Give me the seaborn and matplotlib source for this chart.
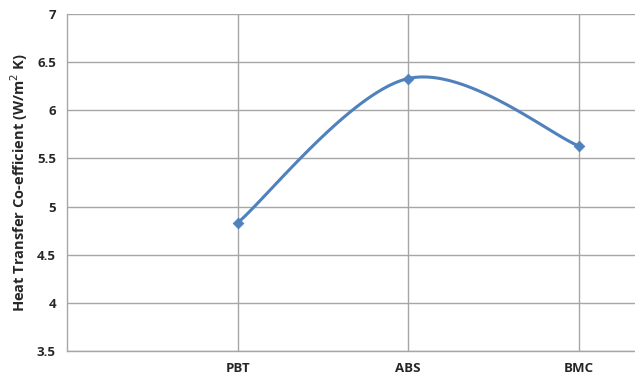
import numpy as np
import pandas as pd
import matplotlib
matplotlib.use("Agg")
import matplotlib.pyplot as plt
import seaborn as sns

# Data
materials = ["PBT", "ABS", "BMC"]
htc = [4.83, 6.33, 5.63]
positions = [1, 2, 3]
y_ticks = [3.5, 4, 4.5, 5, 5.5, 6, 6.5, 7]

sns.set_theme(style="white")
plt.rcParams["font.family"] = ["Open Sans", "DejaVu Sans"]

LINE = "#4F81BD"
GRID = "#A6A6A6"


def smooth_curve(xs, ys, n=60):
    """Cubic Bezier smoothing through the points (spreadsheet-style)."""
    P = np.column_stack([xs, ys]).astype(float)
    ext = np.vstack([P[0], P, P[-1]])
    out = []
    t = np.linspace(0, 1, n)[:, None]
    for i in range(len(P) - 1):
        p0, p1 = ext[i + 1], ext[i + 2]
        c1 = p0 + (ext[i + 2] - ext[i]) / 6
        c2 = p1 - (ext[i + 3] - ext[i + 1]) / 6
        seg = ((1 - t) ** 3) * p0 + 3 * ((1 - t) ** 2) * t * c1 \
            + 3 * (1 - t) * t ** 2 * c2 + t ** 3 * p1
        out.append(seg if i == 0 else seg[1:])
    return np.vstack(out)


fig = plt.figure(figsize=(6.35, 3.79), dpi=100)
ax = fig.add_axes([0.1055, 0.074, 0.8945, 0.889])

curve = smooth_curve(positions, htc)
curve_df = pd.DataFrame({"x": curve[:, 0], "y": curve[:, 1]})
pts_df = pd.DataFrame({"x": positions, "y": htc, "material": materials})

sns.lineplot(data=curve_df, x="x", y="y", ax=ax, color=LINE, linewidth=2.2,
             sort=False, estimator=None, zorder=3)
sns.scatterplot(data=pts_df, x="x", y="y", ax=ax, marker="D", s=30,
                color=LINE, edgecolor=LINE, linewidth=0.5, zorder=4)

ax.set_xlim(0, 3.33)
ax.set_ylim(3.5, 7)
ax.set_xticks(positions)
ax.set_xticklabels(materials, fontsize=9.5, fontweight="bold")
ax.set_yticks(y_ticks)
ax.set_yticklabels([f"{v:g}" for v in y_ticks], fontsize=9.5, fontweight="bold")
ax.tick_params(axis="x", length=0, pad=8)
ax.tick_params(axis="y", length=0, pad=8)

ax.grid(True, color=GRID, linewidth=1.0)
ax.set_axisbelow(True)
for side in ["top", "right"]:
    ax.spines[side].set_visible(False)
for side in ["left", "bottom"]:
    ax.spines[side].set_color(GRID)
    ax.spines[side].set_linewidth(1.0)

ax.set_xlabel("")
ax.set_ylabel("Heat Transfer Co-efficient (W/m$^{2}$ K)", fontsize=10.5,
              fontweight="bold", labelpad=5)

fig.savefig("out.png", dpi=100)
